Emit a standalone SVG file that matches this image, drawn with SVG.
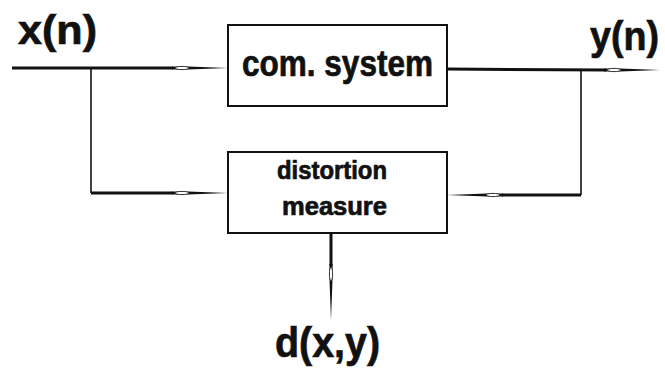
<svg xmlns="http://www.w3.org/2000/svg" width="665" height="371" viewBox="0 0 665 371">
<style>
.box{fill:#fff;stroke:#111;stroke-width:2}
.w{fill:none;stroke:#111;stroke-width:3}
.t{fill:none;stroke:#111;stroke-width:1.6}
.a{fill:none;stroke:none}
.lbl{font-family:"Liberation Sans",Arial,sans-serif;font-weight:bold;fill:#111;stroke:#111;stroke-width:0.7}
</style>
<defs>
<marker id="ah" markerUnits="userSpaceOnUse" viewBox="-60 -5 62 10" refX="0" refY="0" markerWidth="62" markerHeight="10" orient="auto">
<path d="M-56,-1.6 L-40,-1.5 L0,0 L-40,1.5 L-56,1.6 Z" fill="#111"/>
<ellipse cx="-46" cy="0" rx="7" ry="1.6" fill="#fff" stroke="#111" stroke-width="0.8"/>
</marker>
</defs>
<rect width="665" height="371" fill="#fff"/>
<g id="connectors">
<path class="w" d="M12,68 L173,68"/>
<path class="a" d="M172,68 L228,68" marker-end="url(#ah)"/>
<path class="w" d="M447,69 L606,70"/>
<path class="a" d="M604,70 L660,70" marker-end="url(#ah)"/>
<path class="t" d="M91,68 L91,193"/>
<path class="w" d="M91,193 L173,193"/>
<path class="a" d="M172,193 L228,193" marker-end="url(#ah)"/>
<path class="t" d="M581,70 L581,195"/>
<path class="w" d="M581,195 L502,195"/>
<path class="a" d="M503,195 L447,195" marker-end="url(#ah)"/>
<path class="w" d="M331,233 L331,266"/>
<path class="a" d="M331,264 L331,320" marker-end="url(#ah)"/>
</g>
<g id="com-system">
<rect class="box" x="228" y="25" width="219" height="81"/>
<text class="lbl" x="242" y="76" font-size="37" textLength="191" lengthAdjust="spacingAndGlyphs">com. system</text>
</g>
<g id="distortion-measure">
<rect class="box" x="228" y="152" width="219" height="81"/>
<text class="lbl" x="277" y="179" font-size="25" textLength="110" lengthAdjust="spacingAndGlyphs">distortion</text>
<text class="lbl" x="282" y="215" font-size="25" textLength="105" lengthAdjust="spacingAndGlyphs">measure</text>
</g>
<g id="labels">
<text class="lbl" x="18" y="44" font-size="41" textLength="79" lengthAdjust="spacingAndGlyphs">x(n)</text>
<text class="lbl" x="590" y="50" font-size="41" textLength="69" lengthAdjust="spacingAndGlyphs">y(n)</text>
<text class="lbl" x="275" y="357" font-size="43" textLength="105" lengthAdjust="spacingAndGlyphs">d(x,y)</text>
</g>
</svg>
